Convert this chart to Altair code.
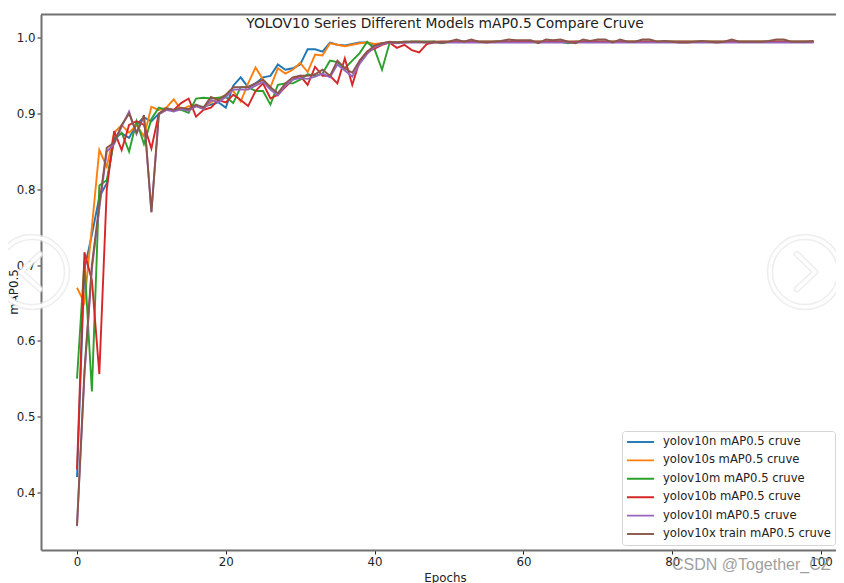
import altair as alt
import pandas as pd

epochs = list(range(100))

yolov10n = [0.420,0.695,0.740,0.790,0.808,0.868,0.874,0.868,0.886,0.895,0.890,0.900,0.907,0.905,0.906,0.905,0.910,0.909,0.912,0.915,0.908,0.937,0.948,0.935,0.940,0.948,0.950,0.965,0.958,0.960,0.965,0.985,0.985,0.982,0.994,0.991,0.990,0.992,0.994,0.994,0.990,0.993,0.994,0.994,0.994,0.995,0.995,0.995,0.995,0.995,
            0.995,0.995,0.995,0.995,0.995,0.995,0.995,0.995,0.995,0.995,0.995,0.995,0.995,0.995,0.995,0.995,0.995,0.995,0.995,0.995,0.995,0.995,0.995,0.995,0.995,0.995,0.995,0.995,0.995,0.995,0.995,0.995,0.995,0.995,0.995,0.995,0.995,0.995,0.995,0.995,0.995,0.995,0.995,0.995,0.995,0.995,0.995,0.995,0.995,0.995]
yolov10s = [0.670,0.650,0.750,0.852,0.830,0.875,0.885,0.875,0.885,0.870,0.909,0.905,0.908,0.919,0.905,0.910,0.910,0.907,0.915,0.920,0.925,0.930,0.916,0.940,0.961,0.945,0.935,0.960,0.953,0.958,0.967,0.955,0.978,0.977,0.993,0.991,0.989,0.991,0.993,0.994,0.992,0.993,0.994,0.994,0.994,0.995,0.995,0.995,0.995,0.995,
            0.995,0.995,0.995,0.995,0.995,0.995,0.995,0.995,0.995,0.995,0.995,0.995,0.995,0.995,0.995,0.995,0.995,0.995,0.995,0.995,0.995,0.995,0.995,0.995,0.995,0.995,0.995,0.995,0.995,0.995,0.995,0.995,0.995,0.995,0.995,0.995,0.995,0.995,0.995,0.995,0.995,0.995,0.995,0.995,0.995,0.995,0.995,0.995,0.995,0.995]
yolov10m = [0.550,0.705,0.533,0.805,0.812,0.865,0.875,0.850,0.890,0.860,0.893,0.908,0.905,0.905,0.905,0.901,0.920,0.921,0.920,0.921,0.922,0.914,0.935,0.935,0.930,0.930,0.912,0.938,0.940,0.940,0.945,0.952,0.950,0.953,0.970,0.968,0.960,0.970,0.980,0.995,0.985,0.958,0.993,0.994,0.995,0.995,0.995,0.995,0.995,0.993,
            0.995,0.995,0.995,0.995,0.995,0.995,0.995,0.995,0.995,0.995,0.995,0.995,0.995,0.995,0.995,0.995,0.993,0.995,0.995,0.995,0.995,0.995,0.995,0.995,0.995,0.995,0.995,0.995,0.995,0.995,0.995,0.995,0.995,0.995,0.995,0.995,0.995,0.995,0.995,0.995,0.995,0.995,0.995,0.995,0.995,0.995,0.995,0.995,0.995,0.995]
yolov10b = [0.430,0.717,0.680,0.556,0.800,0.877,0.852,0.885,0.890,0.885,0.854,0.900,0.905,0.905,0.914,0.920,0.896,0.905,0.908,0.918,0.915,0.925,0.918,0.910,0.930,0.940,0.920,0.925,0.935,0.945,0.950,0.938,0.962,0.950,0.950,0.940,0.973,0.938,0.970,0.982,0.986,0.991,0.994,0.987,0.991,0.984,0.981,0.992,0.994,0.995,
            0.995,0.995,0.995,0.995,0.995,0.995,0.995,0.995,0.995,0.995,0.995,0.995,0.995,0.995,0.995,0.995,0.995,0.995,0.995,0.995,0.995,0.995,0.995,0.995,0.995,0.995,0.995,0.995,0.995,0.995,0.995,0.995,0.995,0.995,0.995,0.995,0.995,0.995,0.995,0.995,0.995,0.995,0.995,0.995,0.995,0.995,0.995,0.995,0.995,0.995]
yolov10l = [0.355,0.555,0.695,0.775,0.850,0.860,0.883,0.903,0.873,0.897,0.770,0.899,0.905,0.903,0.906,0.904,0.910,0.906,0.918,0.915,0.922,0.932,0.932,0.932,0.937,0.942,0.932,0.924,0.937,0.945,0.947,0.946,0.949,0.953,0.948,0.965,0.957,0.949,0.966,0.979,0.988,0.992,0.994,0.993,0.994,0.994,0.994,0.994,0.994,0.994,
            0.994,0.994,0.994,0.994,0.994,0.994,0.994,0.994,0.994,0.994,0.994,0.994,0.994,0.994,0.994,0.994,0.994,0.994,0.994,0.994,0.994,0.994,0.994,0.994,0.994,0.994,0.994,0.994,0.994,0.994,0.994,0.994,0.994,0.994,0.994,0.994,0.994,0.994,0.994,0.994,0.994,0.994,0.994,0.994,0.994,0.994,0.994,0.994,0.994,0.994]
yolov10x = [0.356,0.560,0.700,0.780,0.855,0.862,0.885,0.900,0.875,0.898,0.770,0.900,0.907,0.905,0.908,0.906,0.912,0.908,0.922,0.918,0.925,0.935,0.935,0.935,0.940,0.945,0.935,0.927,0.940,0.948,0.950,0.950,0.952,0.958,0.950,0.970,0.960,0.954,0.970,0.982,0.990,0.993,0.995,0.994,0.995,0.995,0.995,0.994,0.995,0.994,
            0.995,0.998,0.995,0.998,0.995,0.994,0.995,0.996,0.998,0.997,0.997,0.997,0.993,0.998,0.997,0.998,0.995,0.993,0.998,0.996,0.998,0.998,0.994,0.998,0.995,0.995,0.998,0.998,0.995,0.996,0.995,0.994,0.994,0.995,0.996,0.995,0.994,0.995,0.998,0.995,0.995,0.995,0.995,0.996,0.998,0.998,0.995,0.995,0.995,0.996]

series = {
    "yolov10n mAP0.5 cruve": yolov10n,
    "yolov10s mAP0.5 cruve": yolov10s,
    "yolov10m mAP0.5 cruve": yolov10m,
    "yolov10b mAP0.5 cruve": yolov10b,
    "yolov10l mAP0.5 cruve": yolov10l,
    "yolov10x train mAP0.5 cruve": yolov10x,
}
colors = ["#1f77b4", "#ff7f0e", "#2ca02c", "#d62728", "#9467bd", "#8c564b"]
x_ticks = [0, 20, 40, 60, 80, 100]
y_ticks = [0.4, 0.5, 0.6, 0.7, 0.8, 0.9, 1.0]

rows = [
    {"epoch": e, "map": v, "model": name}
    for name, vals in series.items()
    for e, v in zip(epochs, vals)
]
df = pd.DataFrame(rows)

FONT = "DejaVu Sans"
SPINE = "#707070"
W, H = 795, 535.5

lines = alt.Chart(df).mark_line(strokeWidth=1.9, clip=False).encode(
    x=alt.X("epoch:Q",
            scale=alt.Scale(domain=[-4.84, 102.02], nice=False, zero=False),
            axis=alt.Axis(values=x_ticks, format="d", grid=False, title="Epochs",
                          titleX=404, titleY=33, titleBaseline="bottom", titleFontWeight="normal",
                          titleFontSize=11.8, titleFont=FONT, labelFont=FONT, labelFontSize=11.8,
                          labelColor="#222", titleColor="#222", tickColor="#222",
                          tickSize=4, domainColor=SPINE, domainWidth=2, labelFlush=False)),
    y=alt.Y("map:Q",
            scale=alt.Scale(domain=[0.3236, 1.031], nice=False, zero=False),
            axis=alt.Axis(values=y_ticks, format=".1f", grid=False, title="mAP0.5",
                          titleX=-22, titleY=277, titleFontWeight="normal",
                          titleFontSize=11.8, titleFont=FONT, labelFont=FONT, labelFontSize=11.8,
                          labelColor="#222", titleColor="#222", tickColor="#222",
                          tickSize=4, domainColor=SPINE, domainWidth=2)),
    color=alt.Color("model:N", sort=None,
                    scale=alt.Scale(domain=list(series.keys()), range=colors),
                    legend=alt.Legend(title=None, orient="none", legendX=581, legendY=416.5,
                                      symbolType="stroke", symbolSize=729, symbolStrokeWidth=1.9,
                                      clipHeight=14, rowPadding=4.4, labelFont=FONT, labelFontSize=11.6,
                                      labelColor="#222", labelOffset=8, padding=4, cornerRadius=3,
                                      fillColor="white", strokeColor="#d5d5d5", labelLimit=300)),
)

top_spine = alt.Chart(pd.DataFrame({"a": [0]})).mark_rule(color=SPINE, strokeWidth=2).encode(
    x=alt.value(0), x2=alt.value(W), y=alt.value(0))

watermark = alt.Chart(pd.DataFrame({"t": ["CSDN @Together_CZ"]})).mark_text(
    font="Liberation Sans", fontSize=16, color="#8f8f8f", align="left", baseline="middle", opacity=0.85
).encode(x=alt.value(631), y=alt.value(550.5), text="t:N")

rings = pd.DataFrame({"cx": [32 - 41, 805 - 41], "cy": [272 - 14.5, 272 - 14.5]})
ring_halo = alt.Chart(rings).mark_point(shape="circle", size=4900, filled=False, stroke="#e8e8e8",
                                         strokeWidth=6.5, opacity=0.7).encode(
    x=alt.X("cx:Q", scale=None), y=alt.Y("cy:Q", scale=None))
ring_core = alt.Chart(rings).mark_point(shape="circle", size=4900, filled=False, stroke="white",
                                         strokeWidth=3.5, opacity=0.95).encode(
    x=alt.X("cx:Q", scale=None), y=alt.Y("cy:Q", scale=None))

chev_left = "M0.23,-0.51L-0.31,0L0.23,0.49"
chev_right = "M-0.23,-0.51L0.29,0L-0.23,0.49"
def chevron(path, cx, color, width, op):
    return alt.Chart(pd.DataFrame({"cx": [cx], "cy": [272 - 14.5]})).mark_point(
        shape=path, size=4900, filled=False, stroke=color, strokeWidth=width, opacity=op,
        strokeCap="round", strokeJoin="round").encode(
        x=alt.X("cx:Q", scale=None), y=alt.Y("cy:Q", scale=None))

chart = alt.layer(
    lines, top_spine, watermark,
    ring_halo, ring_core,
    chevron(chev_left, 32 - 41, "#e8e8e8", 6.5, 0.7), chevron(chev_left, 32 - 41, "white", 3.5, 0.95),
    chevron(chev_right, 805 - 41, "#e8e8e8", 6.5, 0.7), chevron(chev_right, 805 - 41, "white", 3.5, 0.95),
).resolve_scale(x="independent", y="independent").properties(
    width=W, height=H,
    title=alt.TitleParams("YOLOV10 Series Different Models mAP0.5 Compare Cruve",
                          font=FONT, fontSize=13.8, fontWeight="normal", color="#222",
                          anchor="middle", dx=6.5, offset=-31, baseline="bottom"),
    padding={"left": 33, "top": 6.5, "right": 0, "bottom": 33},
    autosize=alt.AutoSizeParams(type="none"),
).configure_view(stroke=None)

chart.save("out.html", embed_options={"renderer": "svg", "actions": False})
